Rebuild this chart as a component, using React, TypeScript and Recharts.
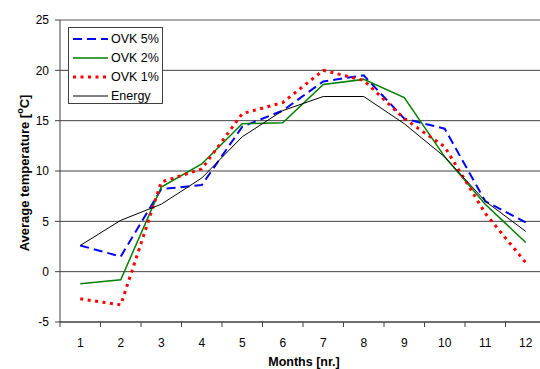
import { LineChart, Line, XAxis, YAxis, CartesianGrid, ReferenceLine } from 'recharts'

// Monthly average temperature per scenario
const months = [1, 2, 3, 4, 5, 6, 7, 8, 9, 10, 11, 12]
const ovk5 = [2.6, 1.5, 8.2, 8.6, 14.4, 16.0, 18.9, 19.5, 15.2, 14.2, 7.0, 4.9]
const ovk2 = [-1.2, -0.8, 8.4, 10.7, 14.7, 14.8, 18.6, 19.1, 17.3, 11.4, 6.7, 2.9]
const ovk1 = [-2.7, -3.3, 8.9, 10.2, 15.7, 16.8, 20.0, 19.0, 15.2, 12.4, 5.8, 0.9]
const energy = [2.6, 5.1, 6.7, 9.3, 13.4, 16.0, 17.4, 17.4, 14.7, 11.4, 7.0, 4.0]
const yTicks = [-5, 0, 5, 10, 15, 20, 25]
const edgeTicks = [0.5, 1.5, 2.5, 3.5, 4.5, 5.5, 6.5, 7.5, 8.5, 9.5, 10.5, 11.5, 12.5]

const series = [
  { key: 'ovk5', name: 'OVK 5%', color: '#0000ff', width: 2, dash: '9 5' },
  { key: 'ovk2', name: 'OVK 2%', color: '#008000', width: 1.5, dash: undefined },
  { key: 'ovk1', name: 'OVK 1%', color: '#ff0000', width: 3, dash: '3 4.5' },
  { key: 'energy', name: 'Energy', color: '#000000', width: 1, dash: undefined },
]

const data = months.map((m, i) => ({
  month: m,
  ovk5: ovk5[i],
  ovk2: ovk2[i],
  ovk1: ovk1[i],
  energy: energy[i],
}))

const font = 'Arial, "Liberation Sans", sans-serif'

// legend box drawn over the plot area (Excel style)
function LegendBox() {
  return (
    <div
      style={{
        position: 'absolute',
        left: 68,
        top: 27,
        border: '1px solid #404040',
        background: '#fff',
        width: 95,
        height: 77,
        boxSizing: 'border-box',
        fontFamily: font,
        fontSize: 12.5,
        color: '#000',
        paddingTop: 2,
      }}
    >
      {series.map((s) => (
        <div key={s.key} style={{ display: 'flex', alignItems: 'center', height: 18.8 }}>
          <svg width={38} height={10} style={{ marginLeft: 3 }}>
            <line
              x1={1}
              y1={5}
              x2={36}
              y2={5}
              stroke={s.color}
              strokeWidth={s.width}
              strokeDasharray={s.dash}
            />
          </svg>
          <span style={{ marginLeft: 1 }}>{s.name}</span>
        </div>
      ))}
    </div>
  )
}

export default function App() {
  return (
    <div
      style={{
        position: 'fixed',
        left: 0,
        top: 0,
        width: 540,
        height: 369,
        overflow: 'hidden',
        background: '#fff',
      }}
    >
      <LineChart
        width={560}
        height={369}
        data={data}
        margin={{ top: 20, right: 14, bottom: 21, left: 0 }}
        style={{ fontFamily: font }}
      >
        <CartesianGrid vertical={false} stroke="#404040" strokeWidth={1} />
        <XAxis
          xAxisId="edge"
          dataKey="month"
          type="number"
          domain={[0.5, 12.5]}
          ticks={edgeTicks}
          tickFormatter={() => ''}
          stroke="#404040"
          tickSize={5}
          height={6}
        />
        <XAxis
          xAxisId="lab"
          dataKey="month"
          type="number"
          domain={[0.5, 12.5]}
          ticks={months}
          axisLine={false}
          tickLine={false}
          tick={{ fill: '#000', fontSize: 12 }}
          tickMargin={4}
          height={20}
        />
        <YAxis
          domain={[-5, 25]}
          ticks={yTicks}
          interval={0}
          width={60}
          stroke="#404040"
          tickSize={5}
          tickMargin={6}
          tick={{ fill: '#000', fontSize: 12 }}
        />
        <ReferenceLine xAxisId="edge" y={25} stroke="#b0b0b0" strokeWidth={1.5} />
        {series.map((s) => (
          <Line
            key={s.key}
            xAxisId="edge"
            type="linear"
            dataKey={s.key}
            name={s.name}
            stroke={s.color}
            strokeWidth={s.width}
            strokeDasharray={s.dash}
            dot={false}
            activeDot={false}
            isAnimationActive={false}
          />
        ))}
      </LineChart>
      <svg
        width={540}
        height={369}
        style={{ position: 'absolute', left: 0, top: 0, pointerEvents: 'none' }}
      >
        <text
          x={24}
          y={173}
          transform="rotate(-90 24 173)"
          textAnchor="middle"
          dominantBaseline="central"
          style={{ fontWeight: 'bold', fontSize: 13, fill: '#000', fontFamily: font }}
        >
          Average temperature [<tspan dy={-4} fontSize={9}>o</tspan>
          <tspan dy={4}>C]</tspan>
        </text>
        <text
          x={304}
          y={362}
          textAnchor="middle"
          dominantBaseline="central"
          style={{ fontWeight: 'bold', fontSize: 12.5, fill: '#000', fontFamily: font }}
        >
          Months [nr.]
        </text>
      </svg>
      <LegendBox />
    </div>
  )
}
